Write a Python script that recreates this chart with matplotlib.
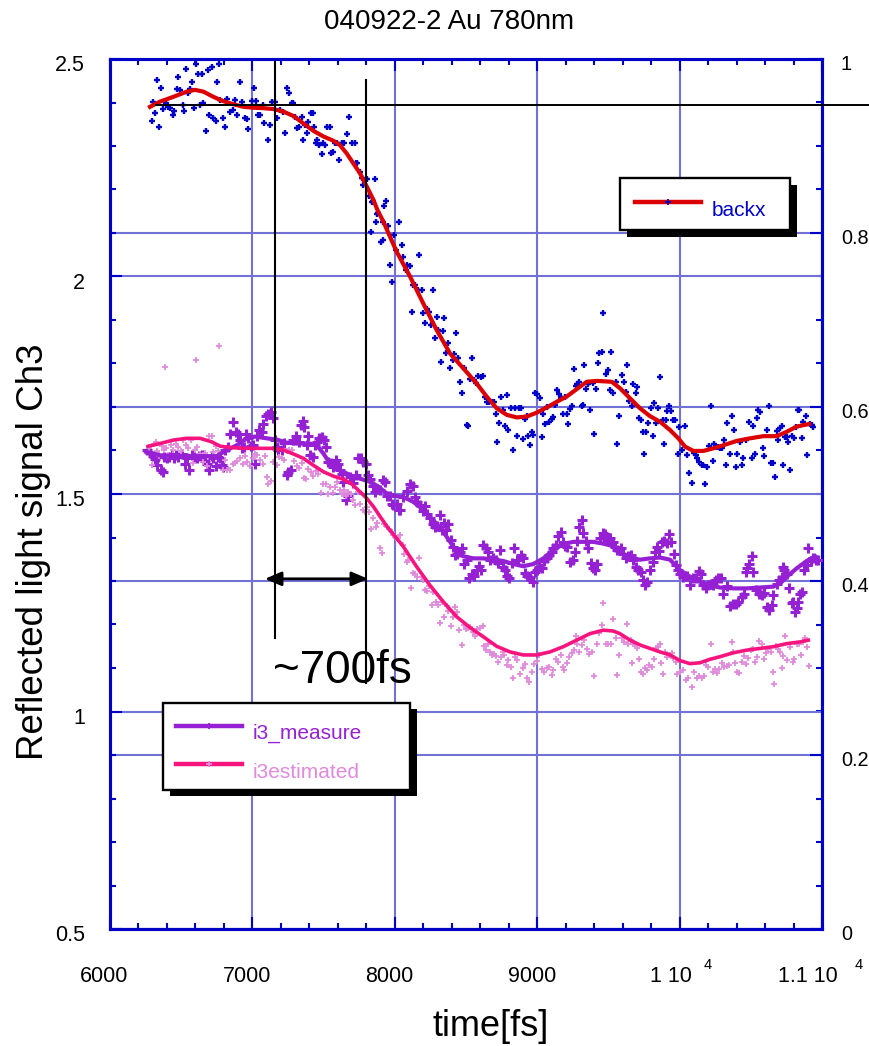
import numpy as np
import matplotlib.pyplot as plt
from matplotlib.ticker import MultipleLocator, FixedLocator
from matplotlib.patches import Rectangle
from matplotlib.lines import Line2D

plt.rcParams['font.family'] = ['Liberation Sans', 'DejaVu Sans']

# ---- raw points (time fs, signal) ----
backx_pts = [
    (6293, 2.358), (6305, 2.402), (6316, 2.375), (6333, 2.452), (6347, 2.344), (6358, 2.434),
    (6375, 2.386), (6394, 2.400), (6410, 2.390), (6422, 2.388), (6440, 2.371), (6452, 2.380),
    (6468, 2.431), (6480, 2.459), (6492, 2.429), (6511, 2.394), (6520, 2.380), (6534, 2.477),
    (6550, 2.421), (6562, 2.432), (6574, 2.448), (6590, 2.388), (6604, 2.488), (6621, 2.465),
    (6632, 2.394), (6644, 2.465), (6651, 2.398), (6674, 2.334), (6686, 2.475), (6698, 2.371),
    (6714, 2.482), (6726, 2.364), (6745, 2.358), (6754, 2.448), (6768, 2.488), (6773, 2.406),
    (6796, 2.364), (6808, 2.344), (6824, 2.407), (6843, 2.379), (6862, 2.383), (6878, 2.406),
    (6890, 2.371), (6913, 2.448), (6925, 2.402), (6948, 2.364), (6960, 2.362), (6972, 2.339),
    (6995, 2.403), (7012, 2.433), (7026, 2.403), (7042, 2.371), (7054, 2.371), (7072, 2.394),
    (7082, 2.352), (7108, 2.314), (7124, 2.348), (7136, 2.402), (7159, 2.402), (7175, 2.364),
    (7194, 2.383), (7213, 2.379), (7229, 2.331), (7241, 2.434), (7260, 2.421), (7276, 2.398),
    (7288, 2.398), (7299, 2.367), (7316, 2.341), (7330, 2.344), (7346, 2.367), (7353, 2.314),
    (7370, 2.348), (7382, 2.331), (7393, 2.356), (7410, 2.375), (7424, 2.375), (7433, 2.344),
    (7447, 2.308), (7456, 2.314), (7470, 2.302), (7487, 2.282), (7498, 2.308), (7510, 2.302),
    (7527, 2.344), (7545, 2.344), (7550, 2.283), (7569, 2.287), (7580, 2.308), (7597, 2.308),
    (7611, 2.268), (7627, 2.306), (7644, 2.306), (7667, 2.327), (7681, 2.366), (7697, 2.306),
    (7721, 2.308), (7728, 2.260), (7737, 2.260), (7756, 2.241), (7768, 2.226), (7775, 2.210),
    (7791, 2.222), (7808, 2.224), (7822, 2.184), (7838, 2.172), (7861, 2.224), (7878, 2.143),
    (7845, 2.174), (7868, 2.126), (7885, 2.145), (7833, 2.103), (7901, 2.080), (7915, 2.085),
    (7924, 2.162), (7938, 2.174), (7920, 2.126), (7955, 2.116), (7966, 2.026), (7978, 1.988),
    (7995, 2.095), (8009, 2.061), (8032, 2.126), (8048, 2.072), (8060, 2.044), (8079, 2.015),
    (8088, 2.026), (8107, 2.023), (8119, 1.919), (8130, 1.980), (8142, 1.980), (8165, 1.969),
    (8172, 2.049), (8189, 1.969), (8196, 1.915), (8212, 1.894), (8229, 1.925), (8243, 1.919),
    (8252, 1.888), (8266, 1.969), (8282, 1.858), (8294, 1.908), (8306, 1.877), (8322, 1.804),
    (8336, 1.875), (8346, 1.904), (8360, 1.823), (8376, 1.848), (8388, 1.790), (8407, 1.808),
    (8416, 1.822), (8430, 1.871), (8446, 1.812), (8458, 1.758), (8470, 1.733), (8486, 1.789),
    (8505, 1.659), (8517, 1.656), (8528, 1.764), (8540, 1.812), (8556, 1.762), (8570, 1.755),
    (8587, 1.771), (8603, 1.768), (8622, 1.771), (8634, 1.724), (8645, 1.712), (8664, 1.712),
    (8680, 1.712), (8697, 1.712), (8711, 1.684), (8720, 1.620), (8734, 1.664), (8744, 1.724),
    (8758, 1.693), (8774, 1.656), (8786, 1.728), (8797, 1.647), (8814, 1.697), (8828, 1.600),
    (8844, 1.697), (8856, 1.633), (8875, 1.697), (8884, 1.697), (8898, 1.626), (8915, 1.672),
    (8926, 1.679), (8938, 1.633), (8950, 1.613), (8961, 1.643), (8973, 1.636), (8985, 1.733),
    (9001, 1.731), (9020, 1.720), (9032, 1.630), (9043, 1.684), (9055, 1.661), (9071, 1.701),
    (9085, 1.666), (9102, 1.672), (9114, 1.676), (9125, 1.705), (9142, 1.738), (9156, 1.731),
    (9165, 1.720), (9179, 1.684), (9195, 1.724), (9207, 1.684), (9219, 1.661), (9230, 1.695),
    (9242, 1.702), (9259, 1.787), (9273, 1.748), (9282, 1.754), (9296, 1.758), (9312, 1.702),
    (9319, 1.705), (9331, 1.797), (9343, 1.741), (9359, 1.754), (9371, 1.693), (9390, 1.756),
    (9399, 1.638), (9413, 1.741), (9429, 1.800), (9436, 1.825), (9464, 1.916),
    (9453, 1.827), (9483, 1.777), (9500, 1.786), (9516, 1.827), (9511, 1.740), (9535, 1.733),
    (9554, 1.758), (9563, 1.616), (9577, 1.679), (9593, 1.773), (9610, 1.758), (9624, 1.735),
    (9633, 1.796), (9647, 1.714), (9664, 1.702), (9675, 1.754), (9694, 1.733), (9703, 1.745),
    (9717, 1.674), (9727, 1.670), (9741, 1.643), (9750, 1.593), (9764, 1.643), (9781, 1.664),
    (9797, 1.697), (9811, 1.633), (9820, 1.710), (9834, 1.664), (9851, 1.697), (9863, 1.768),
    (9881, 1.670), (9891, 1.616), (9905, 1.670), (9914, 1.691), (9928, 1.702), (9938, 1.691),
    (9952, 1.670), (9968, 1.670), (9991, 1.593), (9998, 1.655), (10015, 1.602), (10038, 1.656),
    (10055, 1.589), (10069, 1.549), (10085, 1.526), (10101, 1.595), (10115, 1.589), (10125, 1.582),
    (10139, 1.574), (10155, 1.566), (10167, 1.566), (10179, 1.524), (10195, 1.561), (10209, 1.610),
    (10218, 1.702), (10232, 1.576), (10242, 1.615), (10256, 1.607), (10272, 1.607), (10284, 1.605),
    (10296, 1.605), (10312, 1.625), (10326, 1.566), (10335, 1.664), (10354, 1.593), (10366, 1.679),
    (10382, 1.647), (10396, 1.563), (10406, 1.593), (10424, 1.620), (10436, 1.566), (10448, 1.582),
    (10467, 1.625), (10490, 1.666), (10506, 1.582), (10518, 1.656), (10530, 1.593), (10541, 1.674),
    (10553, 1.694), (10565, 1.689), (10584, 1.605), (10593, 1.587), (10612, 1.648), (10630, 1.702),
    (10640, 1.572), (10654, 1.572), (10670, 1.540), (10682, 1.645), (10694, 1.625), (10705, 1.651),
    (10717, 1.656), (10724, 1.566), (10740, 1.632), (10757, 1.632), (10764, 1.620), (10775, 1.555),
    (10787, 1.633), (10804, 1.628), (10818, 1.655), (10834, 1.694), (10841, 1.694), (10858, 1.628),
    (10869, 1.666), (10888, 1.679), (10897, 1.589), (10916, 1.661), (10928, 1.658), (10935, 1.655),
]

measure_pts = [
    (6263, 1.601), (6281, 1.595), (6300, 1.587), (6316, 1.580), (6328, 1.566), (6340, 1.586),
    (6356, 1.555), (6370, 1.551), (6380, 1.584), (6398, 1.582), (6417, 1.586), (6433, 1.592),
    (6450, 1.582), (6464, 1.589), (6480, 1.586), (6504, 1.592), (6527, 1.570), (6539, 1.582),
    (6557, 1.555), (6574, 1.589), (6590, 1.586), (6609, 1.582), (6628, 1.587), (6644, 1.589),
    (6668, 1.576), (6679, 1.570), (6698, 1.555), (6714, 1.587), (6726, 1.582), (6745, 1.564),
    (6761, 1.586), (6773, 1.582), (6785, 1.566), (6792, 1.563), (6808, 1.601), (6831, 1.609),
    (6843, 1.638), (6862, 1.666), (6885, 1.643), (6902, 1.639), (6913, 1.624), (6925, 1.605),
    (6941, 1.609), (6955, 1.638), (6972, 1.628), (6988, 1.610), (7007, 1.612), (7019, 1.570),
    (7035, 1.633), (7049, 1.647), (7065, 1.643), (7077, 1.661), (7096, 1.679), (7112, 1.684),
    (7129, 1.689), (7143, 1.674), (7159, 1.624), (7171, 1.609), (7183, 1.602), (7206, 1.601),
    (7222, 1.618), (7241, 1.544), (7253, 1.551), (7269, 1.555), (7288, 1.624), (7307, 1.633),
    (7330, 1.620), (7339, 1.658), (7353, 1.668), (7363, 1.655), (7382, 1.612), (7393, 1.633),
    (7405, 1.589), (7424, 1.586), (7440, 1.612), (7456, 1.620), (7470, 1.628), (7487, 1.630),
    (7503, 1.624), (7517, 1.607), (7534, 1.574), (7550, 1.572), (7569, 1.563), (7587, 1.579),
    (7604, 1.570), (7616, 1.555), (7627, 1.547), (7639, 1.528), (7658, 1.486), (7674, 1.495),
    (7686, 1.540), (7705, 1.526), (7728, 1.544), (7744, 1.582), (7761, 1.582), (7779, 1.574),
    (7798, 1.570), (7814, 1.544), (7826, 1.534), (7845, 1.518), (7861, 1.505), (7878, 1.511),
    (7897, 1.509), (7915, 1.532), (7932, 1.528), (7948, 1.495), (7967, 1.495), (7978, 1.478),
    (7990, 1.475), (8013, 1.478), (8032, 1.463),
    (8036, 1.464), (8055, 1.493), (8083, 1.507), (8106, 1.523), (8125, 1.518), (8142, 1.492),
    (8158, 1.482), (8177, 1.474), (8195, 1.461), (8212, 1.472), (8228, 1.455), (8247, 1.444),
    (8266, 1.432), (8282, 1.423), (8298, 1.426), (8317, 1.451), (8329, 1.417), (8345, 1.434),
    (8359, 1.418), (8376, 1.432), (8392, 1.395), (8406, 1.378), (8422, 1.359), (8439, 1.363),
    (8458, 1.367), (8469, 1.375), (8486, 1.340), (8504, 1.348), (8523, 1.308), (8539, 1.316),
    (8556, 1.311), (8575, 1.326), (8593, 1.334), (8603, 1.326), (8621, 1.382), (8640, 1.375),
    (8657, 1.367), (8668, 1.349), (8692, 1.354), (8710, 1.349), (8727, 1.342), (8738, 1.371),
    (8757, 1.333), (8774, 1.326), (8790, 1.311), (8804, 1.306), (8820, 1.342), (8837, 1.375),
    (8856, 1.348), (8867, 1.349), (8884, 1.359), (8898, 1.354), (8914, 1.319), (8930, 1.311),
    (8949, 1.310), (8968, 1.298), (8984, 1.321), (8996, 1.326), (9015, 1.333), (9031, 1.329),
    (9047, 1.346), (9066, 1.352), (9085, 1.359), (9101, 1.367), (9113, 1.375), (9132, 1.382),
    (9148, 1.403), (9164, 1.413), (9179, 1.390), (9195, 1.380), (9211, 1.379), (9230, 1.344),
    (9249, 1.349), (9265, 1.367), (9282, 1.392), (9296, 1.423), (9312, 1.441), (9324, 1.411),
    (9342, 1.392), (9359, 1.375), (9375, 1.342), (9389, 1.331), (9406, 1.325), (9422, 1.339),
    (9441, 1.398), (9459, 1.411), (9476, 1.408), (9492, 1.394), (9511, 1.398), (9530, 1.390),
    (9546, 1.379), (9563, 1.371),
    (9586, 1.375), (9605, 1.363), (9624, 1.354), (9640, 1.357), (9656, 1.359), (9675, 1.349),
    (9694, 1.333), (9710, 1.326), (9727, 1.321), (9741, 1.303), (9757, 1.290), (9773, 1.298),
    (9792, 1.325), (9811, 1.344), (9827, 1.367), (9844, 1.379), (9858, 1.369), (9874, 1.390),
    (9890, 1.392), (9909, 1.388), (9928, 1.409), (9937, 1.390), (9961, 1.362), (9975, 1.336),
    (9991, 1.326), (10003, 1.317), (10022, 1.310), (10038, 1.311), (10054, 1.311), (10073, 1.290),
    (10092, 1.306), (10115, 1.306), (10139, 1.323), (10148, 1.317), (10167, 1.290), (10185, 1.283),
    (10202, 1.290), (10218, 1.294), (10237, 1.290), (10256, 1.302), (10272, 1.306), (10288, 1.308),
    (10307, 1.270), (10330, 1.288), (10354, 1.242), (10373, 1.248), (10396, 1.248), (10412, 1.252),
    (10436, 1.264), (10452, 1.270), (10466, 1.321), (10476, 1.329), (10490, 1.339), (10506, 1.357),
    (10518, 1.321), (10536, 1.279), (10560, 1.270), (10576, 1.267), (10593, 1.273), (10612, 1.241),
    (10630, 1.233), (10646, 1.244), (10658, 1.267), (10682, 1.294), (10700, 1.302), (10717, 1.310),
    (10724, 1.333), (10733, 1.325), (10752, 1.317), (10771, 1.283), (10787, 1.250), (10799, 1.252),
    (10810, 1.229), (10822, 1.237), (10834, 1.252), (10846, 1.271), (10857, 1.275), (10874, 1.325),
    (10892, 1.336), (10904, 1.375), (10920, 1.346), (10939, 1.354), (10958, 1.349), (10974, 1.348),
]

estimated_pts = [
    (6387, 1.791), (6604, 1.808), (6768, 1.840),
    (6277, 1.605), (6293, 1.566), (6309, 1.616), (6323, 1.620), (6333, 1.599), (6347, 1.587),
    (6363, 1.610), (6380, 1.601), (6394, 1.605), (6410, 1.589), (6426, 1.612), (6445, 1.601),
    (6464, 1.616), (6480, 1.607), (6497, 1.599), (6515, 1.624), (6534, 1.612), (6550, 1.605),
    (6567, 1.624), (6581, 1.572), (6597, 1.601), (6614, 1.607), (6632, 1.592), (6651, 1.574),
    (6667, 1.595), (6684, 1.564), (6698, 1.633), (6714, 1.633), (6726, 1.597), (6745, 1.610),
    (6761, 1.599), (6773, 1.595), (6792, 1.555), (6808, 1.579), (6824, 1.555), (6843, 1.555),
    (6862, 1.569), (6878, 1.572), (6895, 1.576), (6913, 1.582), (6932, 1.569), (6948, 1.587),
    (6965, 1.574), (6984, 1.564), (7002, 1.582), (7019, 1.592), (7035, 1.589), (7054, 1.578),
    (7072, 1.570), (7089, 1.587), (7101, 1.540), (7112, 1.523), (7129, 1.530), (7147, 1.574),
    (7159, 1.601), (7175, 1.566), (7189, 1.586), (7206, 1.582), (7222, 1.578), (7241, 1.599),
    (7260, 1.601), (7276, 1.601), (7293, 1.576), (7311, 1.564), (7330, 1.559), (7346, 1.572),
    (7363, 1.536), (7377, 1.534), (7393, 1.557), (7410, 1.551), (7428, 1.541), (7447, 1.553),
    (7463, 1.547), (7480, 1.503), (7499, 1.523), (7517, 1.523), (7534, 1.501), (7545, 1.517),
    (7564, 1.503), (7580, 1.517), (7597, 1.528), (7616, 1.509), (7627, 1.501), (7644, 1.509),
    (7658, 1.495), (7674, 1.505), (7690, 1.501), (7709, 1.486), (7721, 1.475), (7744, 1.505),
    (7756, 1.478), (7775, 1.463), (7791, 1.459), (7803, 1.471), (7822, 1.459), (7831, 1.419),
    (7850, 1.444), (7868, 1.425), (7878, 1.434), (7897, 1.375), (7908, 1.364), (7925, 1.432),
    (7943, 1.423), (7962, 1.419), (7978, 1.413), (7990, 1.406), (8009, 1.398), (8025, 1.398),
    (8036, 1.405), (8055, 1.382), (8064, 1.363), (8083, 1.344), (8095, 1.349), (8111, 1.285),
    (8125, 1.319), (8142, 1.316), (8158, 1.310), (8172, 1.352), (8188, 1.310), (8200, 1.302),
    (8212, 1.280), (8228, 1.277), (8242, 1.288), (8259, 1.244), (8270, 1.275), (8289, 1.252),
    (8305, 1.244), (8317, 1.204), (8329, 1.252), (8345, 1.218), (8364, 1.242), (8376, 1.231),
    (8392, 1.196), (8406, 1.218), (8422, 1.241), (8434, 1.229), (8453, 1.187), (8469, 1.153),
    (8486, 1.199), (8500, 1.189), (8516, 1.191), (8528, 1.195), (8547, 1.183), (8563, 1.173),
    (8579, 1.189), (8598, 1.193), (8617, 1.196), (8626, 1.150), (8640, 1.141), (8657, 1.156),
    (8668, 1.137), (8680, 1.130), (8696, 1.133), (8710, 1.127), (8727, 1.114), (8743, 1.126),
    (8757, 1.137), (8767, 1.130), (8785, 1.107), (8797, 1.118), (8813, 1.103), (8827, 1.076),
    (8844, 1.126), (8860, 1.118), (8879, 1.086), (8898, 1.099), (8914, 1.110), (8926, 1.076),
    (8944, 1.068), (8961, 1.091), (8977, 1.110), (8996, 1.116), (9015, 1.130), (9031, 1.097),
    (9047, 1.091), (9066, 1.099), (9085, 1.103), (9101, 1.084), (9113, 1.095), (9132, 1.120),
    (9148, 1.114), (9164, 1.130), (9179, 1.103), (9188, 1.095), (9207, 1.112), (9225, 1.126),
    (9242, 1.135), (9258, 1.141), (9272, 1.173), (9282, 1.156), (9296, 1.137), (9312, 1.153),
    (9328, 1.164), (9347, 1.143), (9366, 1.133), (9382, 1.137), (9399, 1.081), (9417, 1.155),
    (9436, 1.181), (9452, 1.199), (9464, 1.250), (9483, 1.156), (9499, 1.156), (9516, 1.156),
    (9530, 1.212), (9553, 1.168), (9563, 1.084), (9577, 1.130),
    (9593, 1.168), (9610, 1.160), (9628, 1.201), (9640, 1.156), (9656, 1.164), (9663, 1.112),
    (9675, 1.156), (9687, 1.156), (9699, 1.145), (9717, 1.120), (9727, 1.091), (9741, 1.086),
    (9757, 1.101), (9769, 1.095), (9787, 1.107), (9804, 1.103), (9820, 1.120), (9834, 1.145),
    (9851, 1.149), (9862, 1.156), (9867, 1.112), (9881, 1.086), (9897, 1.137), (9914, 1.126),
    (9928, 1.130), (9944, 1.135), (9956, 1.122), (9975, 1.114), (9984, 1.087), (10003, 1.091),
    (10022, 1.095), (10045, 1.072), (10061, 1.076), (10085, 1.057), (10101, 1.091), (10120, 1.076),
    (10139, 1.081), (10155, 1.076), (10171, 1.081), (10185, 1.107), (10202, 1.103), (10218, 1.156),
    (10237, 1.091), (10249, 1.097), (10265, 1.089), (10279, 1.097), (10295, 1.112), (10312, 1.103),
    (10331, 1.104), (10349, 1.107), (10366, 1.160), (10377, 1.137), (10389, 1.112), (10405, 1.091),
    (10419, 1.089), (10436, 1.114), (10452, 1.127), (10466, 1.110), (10483, 1.122), (10499, 1.141),
    (10513, 1.143), (10530, 1.114), (10541, 1.126), (10560, 1.162), (10576, 1.156), (10593, 1.120),
    (10607, 1.135), (10623, 1.143), (10640, 1.137), (10654, 1.091), (10663, 1.064), (10677, 1.150),
    (10693, 1.143), (10705, 1.137), (10717, 1.099), (10728, 1.127), (10740, 1.173), (10757, 1.118),
    (10775, 1.149), (10794, 1.114), (10803, 1.120), (10822, 1.156), (10841, 1.156), (10850, 1.130),
    (10864, 1.160), (10881, 1.168), (10897, 1.149), (10911, 1.104),
]

# ---- smoothed curves ----
backx_fit = [
    (6281, 2.390), (6351, 2.402), (6445, 2.413), (6539, 2.425), (6597, 2.429), (6656, 2.425),
    (6726, 2.413), (6796, 2.403), (6866, 2.396), (6937, 2.390), (7007, 2.388), (7077, 2.387),
    (7147, 2.385), (7218, 2.379), (7288, 2.369), (7358, 2.352), (7428, 2.335), (7498, 2.322),
    (7569, 2.312), (7615, 2.302), (7662, 2.283), (7709, 2.260), (7756, 2.237), (7803, 2.207),
    (7850, 2.176), (7878, 2.153), (7920, 2.126), (8013, 2.057), (8107, 2.000), (8200, 1.938),
    (8294, 1.877), (8388, 1.823), (8481, 1.789), (8575, 1.754), (8645, 1.724), (8716, 1.697),
    (8786, 1.682), (8856, 1.676), (8926, 1.678), (8997, 1.687), (9067, 1.699), (9137, 1.712),
    (9207, 1.724), (9277, 1.741), (9348, 1.758), (9418, 1.760), (9523, 1.758), (9582, 1.743),
    (9652, 1.720), (9722, 1.697), (9792, 1.679), (9863, 1.666), (9933, 1.647), (9991, 1.628),
    (10038, 1.609), (10097, 1.599), (10167, 1.599), (10237, 1.605), (10307, 1.612), (10401, 1.622),
    (10495, 1.628), (10588, 1.633), (10682, 1.633), (10752, 1.643), (10822, 1.655), (10910, 1.661),
]

measure_fit = [
    (6253, 1.597), (6351, 1.589), (6492, 1.587), (6632, 1.587), (6749, 1.587), (6820, 1.601),
    (6890, 1.612), (6960, 1.628), (7019, 1.632), (7101, 1.628), (7171, 1.625), (7241, 1.618),
    (7311, 1.616), (7405, 1.616), (7452, 1.612), (7499, 1.593), (7545, 1.570), (7592, 1.557),
    (7651, 1.549), (7709, 1.540), (7768, 1.534), (7826, 1.528), (7885, 1.517), (7943, 1.501),
    (8013, 1.495), (8060, 1.493), (8130, 1.482), (8200, 1.464), (8270, 1.440), (8341, 1.413),
    (8411, 1.379), (8481, 1.357), (8551, 1.352), (8621, 1.352), (8692, 1.349), (8762, 1.346),
    (8832, 1.339), (8902, 1.334), (8973, 1.339), (9043, 1.352), (9113, 1.371), (9183, 1.385),
    (9253, 1.390), (9324, 1.390), (9394, 1.390), (9464, 1.386), (9534, 1.380), (9581, 1.367),
    (9652, 1.354), (9722, 1.349), (9792, 1.352), (9862, 1.354), (9933, 1.349), (10003, 1.325),
    (10073, 1.310), (10143, 1.298), (10213, 1.290), (10284, 1.285), (10377, 1.283), (10471, 1.283),
    (10565, 1.285), (10658, 1.287), (10705, 1.294), (10764, 1.313), (10822, 1.329), (10892, 1.346),
    (10951, 1.357),
]

estimated_fit = [
    (6270, 1.610), (6351, 1.616), (6445, 1.624), (6539, 1.628), (6632, 1.628), (6714, 1.620),
    (6773, 1.610), (6843, 1.607), (6937, 1.605), (7030, 1.605), (7147, 1.605), (7218, 1.601),
    (7288, 1.592), (7358, 1.582), (7428, 1.566), (7499, 1.551), (7569, 1.541), (7639, 1.534),
    (7698, 1.523), (7756, 1.505), (7803, 1.490), (7850, 1.471), (7897, 1.448), (7955, 1.421),
    (8013, 1.398), (8060, 1.379), (8153, 1.333), (8247, 1.290), (8341, 1.252), (8434, 1.218),
    (8528, 1.193), (8621, 1.172), (8715, 1.150), (8809, 1.137), (8902, 1.130), (8996, 1.130),
    (9090, 1.137), (9183, 1.149), (9277, 1.164), (9371, 1.179), (9464, 1.187), (9534, 1.185),
    (9581, 1.179), (9652, 1.164), (9722, 1.153), (9792, 1.145), (9862, 1.137), (9933, 1.130),
    (10003, 1.117), (10073, 1.110), (10143, 1.112), (10213, 1.120), (10284, 1.126), (10377, 1.135),
    (10471, 1.141), (10565, 1.145), (10658, 1.149), (10752, 1.156), (10846, 1.160), (10904, 1.164),
]

# rise-time markers
edge_times = [7159, 7798]
edge_tops = [2.493, 2.452]
edge_bottoms = [1.169, 1.066]
arrow_span = (7088, 7812)
arrow_level = 1.305
ref_level = 2.394

x_ticks = [6000, 7000, 8000, 9000, 10000, 11000]
x_labels = ['6000', '7000', '8000', '9000', '1 10', '1.1 10']
left_ticks = [0.5, 1, 1.5, 2, 2.5]
left_labels = ['0.5', '1', '1.5', '2', '2.5']
right_ticks = [0, 0.2, 0.4, 0.6, 0.8, 1]
right_labels = ['0', '0.2', '0.4', '0.6', '0.8', '1']

BLUE = '#0000c8'
GRID = '#7272d6'
RED = '#dc0000'
PURPLE = '#9620d4'
PINK = '#f8147f'
ORCHID = '#e08adc'

fig = plt.figure(figsize=(8.7, 10.46), dpi=100)
W, H = 870, 1046
ax = fig.add_axes([110 / W, 1 - 929 / H, 712 / W, 870 / H])
ax2 = ax.twinx()
ax.set_zorder(ax2.get_zorder() + 1)
ax.patch.set_visible(False)

ax.set_xlim(6000, 11000)
ax.set_ylim(0.5, 2.5)
ax2.set_ylim(0, 1)

ax.xaxis.set_major_locator(FixedLocator(x_ticks))
ax.xaxis.set_minor_locator(MultipleLocator(200))
ax.yaxis.set_major_locator(FixedLocator(left_ticks))
ax.yaxis.set_minor_locator(MultipleLocator(0.1))
ax2.yaxis.set_major_locator(FixedLocator(right_ticks))
ax2.yaxis.set_minor_locator(MultipleLocator(0.05))

for a in (ax, ax2):
    for sp in a.spines.values():
        sp.set_color(BLUE)
        sp.set_linewidth(2.2)
    a.tick_params(which='both', direction='in', color=BLUE, width=1.5)
    a.tick_params(which='major', length=8.6)
    a.tick_params(which='minor', length=4.6)
ax.tick_params(which='both', top=True, labelbottom=False, labelleft=False)
ax2.tick_params(which='both', labelright=False)

ax.grid(True, which='major', color=GRID, lw=1.5)
ax2.grid(True, axis='y', which='major', color=GRID, lw=1.5)

# tick labels
tfs = 15.5
for t, lab in zip(x_ticks, x_labels):
    if t < 10000:
        ax.annotate(lab, xy=(t, 0), xycoords=('data', 'axes fraction'),
                    xytext=(-4, -34), textcoords='offset points',
                    ha='center', va='center', fontsize=tfs)
for t, lab, dx_main, dx_sup in [(10000, '1 10', 9, 20), (11000, '1.1 10', 11.5, 26.5)]:
    ax.annotate(lab, xy=(t, 0), xycoords=('data', 'axes fraction'),
                xytext=(dx_main, -34), textcoords='offset points',
                ha='right', va='center', fontsize=tfs)
    ax.annotate('4', xy=(t, 0), xycoords=('data', 'axes fraction'),
                xytext=(dx_sup, -26), textcoords='offset points',
                ha='center', va='center', fontsize=10.5)
for v, lab in zip(left_ticks, left_labels):
    ax.annotate(lab, xy=(0, v), xycoords=('axes fraction', 'data'),
                xytext=(-18, -5), textcoords='offset points',
                ha='right', va='center', fontsize=tfs)
for v, lab in zip(right_ticks, right_labels):
    ax2.annotate(lab, xy=(1, v), xycoords=('axes fraction', 'data'),
                 xytext=(13.5, -4.3), textcoords='offset points',
                 ha='left', va='center', fontsize=14.3)

# data
bx = np.array(backx_pts)
me = np.array(measure_pts)
es = np.array(estimated_pts)
bf = np.array(backx_fit)
mf = np.array(measure_fit)
ef = np.array(estimated_fit)

ax.plot(me[:, 0], me[:, 1], ls='none', marker='+', ms=6.5, mew=2.2, color=PURPLE, zorder=3)
ax.plot(es[:, 0], es[:, 1], ls='none', marker='+', ms=5, mew=1.3, color=ORCHID, zorder=3)
ax.plot(mf[:, 0], mf[:, 1], color=PURPLE, lw=3, zorder=4)
ax.plot(ef[:, 0], ef[:, 1], color=PINK, lw=2.6, zorder=4)
ax.plot(bx[:, 0], bx[:, 1], ls='none', marker='+', ms=5, mew=1.7, color=BLUE, zorder=3)
ax.plot(bf[:, 0], bf[:, 1], color=RED, lw=3, zorder=4)

# 700 fs annotation
ax.plot([6320, 11400], [ref_level, ref_level], color='black', lw=1.4, clip_on=False, zorder=5)
for t, y0, y1 in zip(edge_times, edge_bottoms, edge_tops):
    ax.plot([t, t], [y0, y1], color='black', lw=1.5, zorder=5)
ax.annotate('', xy=(arrow_span[0], arrow_level), xytext=(arrow_span[1], arrow_level),
            arrowprops=dict(arrowstyle='<|-|>,head_length=0.7,head_width=0.3',
                            mutation_scale=14, color='black', lw=2,
                            shrinkA=0, shrinkB=0), zorder=6)
ax.text(7145, 1.066, '~700fs', fontsize=33, va='baseline', ha='left', zorder=6)


def key_box(x0, y0, x1, y1, rows):
    w, h = x1 - x0, y1 - y0
    ax.add_patch(Rectangle((x0 + 0.0095, y0 - 0.0075), w, h, transform=ax.transAxes,
                           fc='black', ec='black', lw=0, zorder=8, clip_on=False))
    ax.add_patch(Rectangle((x0, y0), w, h, transform=ax.transAxes,
                           fc='white', ec='black', lw=1.7, zorder=9, clip_on=False))
    for lx0, lx1, ly, ty, tx, lc, mc, txt, tc in rows:
        ax.add_line(Line2D([lx0, lx1], [ly, ly], transform=ax.transAxes,
                           color=lc, lw=3.2, zorder=10))
        ax.add_line(Line2D([(lx0 + lx1) / 2], [ly], transform=ax.transAxes, ls='none',
                           marker='+', ms=4.5, mew=1.3, color=mc, zorder=11))
        ax.text(tx, ty, txt, transform=ax.transAxes, color=tc, fontsize=15,
                ha='left', va='baseline', zorder=11)


key_box(0.7163, 0.8034, 0.9551, 0.8632,
        [(0.7374, 0.8301, 0.8356, 0.8190, 0.8455, RED, BLUE, 'backx', BLUE)])
key_box(0.0744, 0.1598, 0.4213, 0.2598,
        [(0.0927, 0.1854, 0.2333, 0.2184, 0.2008, PURPLE, PURPLE, 'i3_measure', PURPLE),
         (0.0927, 0.1854, 0.1897, 0.1736, 0.2008, PINK, ORCHID, 'i3estimated', ORCHID)])

fig.text(449 / W, 1 - 22 / H, '040922-2 Au 780nm', ha='center', va='center', fontsize=20)
fig.text(491 / W, 1 - 1027 / H, 'time[fs]', ha='center', va='center', fontsize=26)
fig.text(34 / W, 1 - 552 / H, 'Reflected light signal Ch3', rotation=90,
         ha='center', va='center', fontsize=26.5)

fig.savefig('out.png', dpi=100)
